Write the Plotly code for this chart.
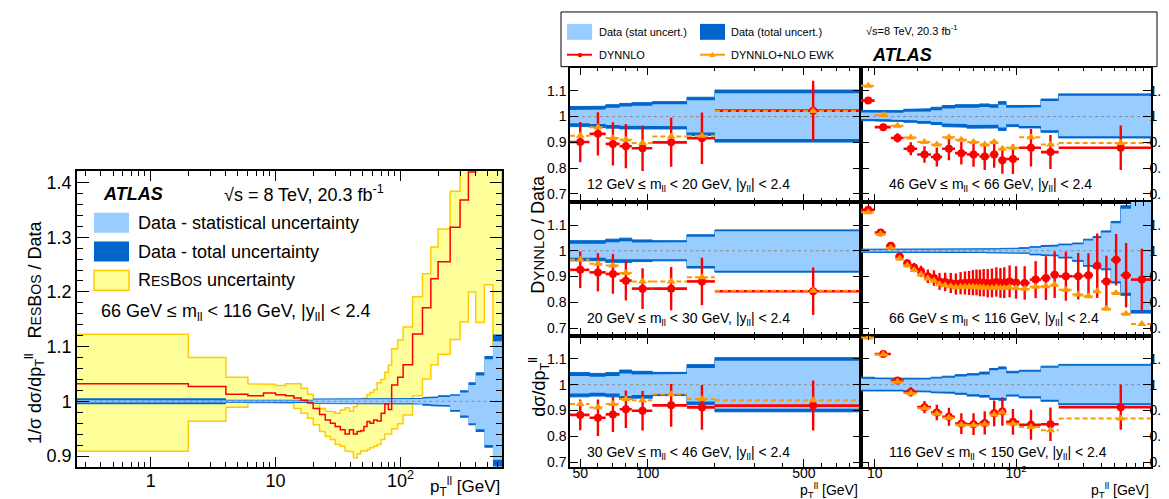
import numpy as np
import plotly.graph_objects as go

W, H = 1169, 499
FONT = "Liberation Sans, Arial, Helvetica, sans-serif"
RED = "rgb(255,0,0)"
ORANGE = "rgb(255,153,0)"
DARK = "rgb(0,102,204)"
LIGHT = "rgb(153,204,255)"
YELLOW = "rgb(255,255,153)"
GOLD = "rgb(255,204,0)"
GRAY = "rgb(140,140,140)"

# ---------------- Left panel (RESBOS / Data, 66-116 GeV) ----------------
left_edges = [0.25, 2, 4, 6, 8, 10, 12, 14, 16, 18, 20, 22.5, 25, 27.5, 30, 33, 36, 39, 42, 45, 48, 51,
              54, 57, 61, 65, 70, 75, 80, 85, 95, 105, 125, 150, 175, 200, 250, 300, 350, 400, 470, 550, 650]
resbos_central = [1.032, 1.027, 1.013, 1.010, 1.015, 1.012, 1.010, 1.006, 1.002, 0.997, 0.987, 0.976, 0.966,
                  0.960, 0.954, 0.948, 0.940, 0.948, 0.940, 0.945, 0.946, 0.954, 0.963, 0.960, 0.966, 0.964,
                  0.978, 0.995, 0.985, 1.030, 1.044, 1.067, 1.123, 1.171, 1.224, 1.255, 1.318, 1.368, 1.419,
                  1.47, 1.50, 1.55]
resbos_up = [1.1225, 1.080, 1.044, 1.032, 1.031, 1.029, 1.032, 1.032, 1.024, 1.013, 0.998, 0.987, 0.982,
             0.981, 0.978, 0.984, 0.988, 0.982, 0.990, 0.997, 1.004, 1.006, 1.012, 1.016, 1.021, 1.034,
             1.040, 1.053, 1.066, 1.096, 1.112, 1.136, 1.191, 1.233, 1.282, 1.315, 1.384, 1.48, 1.50,
             1.55, 1.60, 1.60]
resbos_dn = [0.9085, 0.9636, 0.989, 0.997, 0.998, 0.997, 0.996, 0.987, 0.978, 0.969, 0.957, 0.945, 0.936,
             0.930, 0.921, 0.918, 0.909, 0.908, 0.897, 0.904, 0.909, 0.909, 0.912, 0.915, 0.918, 0.921,
             0.930, 0.940, 0.940, 0.950, 0.959, 0.975, 1.010, 1.041, 1.067, 1.086, 1.113, 1.145, 1.200,
             1.144, 1.213, 1.10]
left_tot_up = [0.0055, 0.0055, 0.003, 0.003, 0.003, 0.003, 0.003, 0.003, 0.003, 0.003,
               0.005, 0.005, 0.005, 0.005, 0.005, 0.005, 0.005, 0.005, 0.005, 0.005, 0.005,
               0.005, 0.005, 0.005, 0.005, 0.005, 0.005, 0.005, 0.005, 0.005, 0.005, 0.005,
               0.006, 0.008, 0.009, 0.011, 0.013, 0.020, 0.035, 0.053, 0.083, 0.122]
left_tot_dn = [0.0055, 0.0055, 0.003, 0.003, 0.003, 0.003, 0.003, 0.003, 0.003, 0.003,
               0.005, 0.005, 0.005, 0.005, 0.005, 0.005, 0.005, 0.005, 0.005, 0.005, 0.005,
               0.005, 0.005, 0.005, 0.005, 0.005, 0.005, 0.005, 0.005, 0.005, 0.005, 0.005,
               0.006, 0.008, 0.009, 0.010, 0.019, 0.030, 0.044, 0.056, 0.085, 0.119]
left_stat_up = [0.002, 0.002, 0.0015, 0.0015, 0.0015, 0.0015, 0.0015, 0.0015, 0.0015, 0.0015,
                0.0035, 0.0035, 0.0035, 0.0035, 0.0035, 0.0035, 0.0035, 0.0035, 0.0035, 0.0035, 0.0035,
                0.0035, 0.0035, 0.0035, 0.0035, 0.0035, 0.0035, 0.0035, 0.0035, 0.0035, 0.0035, 0.0035,
                0.004, 0.005, 0.006, 0.008, 0.010, 0.016, 0.030, 0.047, 0.077, 0.110]
left_stat_dn = [0.002, 0.002, 0.0015, 0.0015, 0.0015, 0.0015, 0.0015, 0.0015, 0.0015, 0.0015,
                0.0035, 0.0035, 0.0035, 0.0035, 0.0035, 0.0035, 0.0035, 0.0035, 0.0035, 0.0035, 0.0035,
                0.0035, 0.0035, 0.0035, 0.0035, 0.0035, 0.0035, 0.0035, 0.0035, 0.0035, 0.0035, 0.0035,
                0.004, 0.005, 0.006, 0.007, 0.016, 0.026, 0.040, 0.051, 0.080, 0.107]

# ---------------- Right panels (DYNNLO / Data) ----------------
off_edges = [45, 55, 65, 75, 85, 105, 150, 200, 900]
coarse_edges = [8, 10, 13, 16, 20, 25, 30, 37, 45, 55, 65, 75, 85, 105, 150, 200, 900]
fine_edges = [8, 10, 12, 14, 16, 18, 20, 22.5, 25, 27.5, 30, 33, 36, 39, 42, 45, 48, 51, 54, 57, 61, 65,
              70, 75, 80, 85, 95, 105, 125, 150, 175, 200, 250, 300, 350, 400, 470, 550, 650, 900]

# 12-20 GeV
m1220_red = [0.901, 0.933, 0.894, 0.885, 0.877, 0.900, 0.916, 1.023]
m1220_red_err = [0.078, 0.084, 0.084, 0.086, 0.088, 0.095, 0.100, 0.116]
m1220_ewk = [0.926, 0.959, 0.917, 0.910, 0.897, 0.923, 0.926, 1.022]
m1220_tot_up = [0.039, 0.040, 0.046, 0.051, 0.054, 0.058, 0.075, 0.103]
m1220_tot_dn = [0.039, 0.042, 0.045, 0.048, 0.048, 0.048, 0.074, 0.099]
m1220_stat_up = [0.026, 0.027, 0.034, 0.039, 0.042, 0.048, 0.063, 0.091]
m1220_stat_dn = [0.026, 0.029, 0.033, 0.036, 0.036, 0.038, 0.062, 0.087]

# 20-30 GeV
m2030_red = [0.926, 0.916, 0.910, 0.884, 0.853, 0.853, 0.881, 0.843]
m2030_red_err = [0.071, 0.074, 0.077, 0.077, 0.079, 0.084, 0.092, 0.092]
m2030_ewk = [0.965, 0.950, 0.943, 0.914, 0.881, 0.881, 0.897, 0.845]
m2030_tot_up = [0.039, 0.039, 0.045, 0.049, 0.042, 0.039, 0.062, 0.081]
m2030_tot_dn = [0.039, 0.039, 0.045, 0.045, 0.042, 0.039, 0.067, 0.083]
m2030_stat_up = [0.027, 0.027, 0.033, 0.037, 0.032, 0.033, 0.054, 0.076]
m2030_stat_dn = [0.027, 0.027, 0.033, 0.033, 0.032, 0.033, 0.059, 0.078]

# 30-46 GeV
m3046_red = [0.883, 0.872, 0.885, 0.905, 0.899, 0.920, 0.912, 0.919]
m3046_red_err = [0.060, 0.071, 0.068, 0.073, 0.077, 0.083, 0.087, 0.097]
m3046_ewk = [0.925, 0.912, 0.925, 0.945, 0.940, 0.963, 0.945, 0.940]
m3046_tot_up = [0.047, 0.044, 0.047, 0.057, 0.052, 0.048, 0.078, 0.105]
m3046_tot_dn = [0.047, 0.044, 0.047, 0.057, 0.052, 0.042, 0.078, 0.105]
m3046_stat_up = [0.034, 0.031, 0.034, 0.044, 0.040, 0.042, 0.065, 0.093]
m3046_stat_dn = [0.034, 0.031, 0.034, 0.044, 0.040, 0.036, 0.065, 0.093]

# 46-66 GeV
m4666_red = [1.062, 0.959, 0.917, 0.875, 0.853, 0.843, 0.875, 0.858, 0.853, 0.845, 0.853, 0.830,
             0.835, 0.879, 0.862, 0.879]
m4666_red_err = [0.012, 0.013, 0.018, 0.025, 0.032, 0.037, 0.045, 0.044, 0.048, 0.052, 0.052, 0.052,
                 0.058, 0.073, 0.066, 0.086]
m4666_ewk = [1.120, 1.006, 0.964, 0.919, 0.901, 0.892, 0.920, 0.910, 0.901, 0.892, 0.901, 0.875,
             0.879, 0.920, 0.892, 0.897]
m4666_tot_up = [0.024, 0.024, 0.023, 0.028, 0.030, 0.036, 0.043, 0.046, 0.046, 0.049, 0.046, 0.058,
                0.043, 0.043, 0.068, 0.088]
m4666_tot_dn = [0.016, 0.017, 0.019, 0.022, 0.026, 0.031, 0.039, 0.041, 0.045, 0.044, 0.044, 0.054,
                0.039, 0.044, 0.061, 0.083]
m4666_stat_up = [0.016, 0.016, 0.015, 0.019, 0.020, 0.025, 0.031, 0.034, 0.034, 0.037, 0.034, 0.046,
                 0.034, 0.036, 0.060, 0.081]
m4666_stat_dn = [0.009, 0.010, 0.012, 0.014, 0.017, 0.021, 0.027, 0.029, 0.033, 0.032, 0.032, 0.042,
                 0.030, 0.037, 0.053, 0.076]

# 66-116 GeV
m66116_red = [1.159, 1.071, 1.019, 0.978, 0.952, 0.935, 0.920, 0.901, 0.894, 0.881, 0.879, 0.875, 0.871,
              0.874, 0.875, 0.875, 0.876, 0.877, 0.875, 0.876, 0.874, 0.875, 0.879, 0.875, 0.876, 0.881,
              0.877, 0.875, 0.888, 0.894, 0.907, 0.901, 0.901, 0.905, 0.942, 0.881, 0.965, 0.905, 0.888]
m66116_red_err = [0.008, 0.008, 0.010, 0.012, 0.015, 0.018, 0.022, 0.026, 0.030, 0.033, 0.036, 0.039,
                  0.041, 0.043, 0.045, 0.047, 0.049, 0.050, 0.052, 0.053, 0.055, 0.056, 0.057, 0.058,
                  0.060, 0.062, 0.063, 0.065, 0.072, 0.085, 0.090, 0.095, 0.090, 0.085, 0.125, 0.100,
                  0.100, 0.125, 0.120]
m66116_ewk = [1.150, 1.065, 1.012, 0.970, 0.943, 0.925, 0.908, 0.892, 0.884, 0.870, 0.866, 0.862, 0.858,
              0.860, 0.860, 0.860, 0.860, 0.858, 0.858, 0.857, 0.855, 0.856, 0.858, 0.855, 0.855, 0.858,
              0.855, 0.853, 0.860, 0.862, 0.868, 0.849, 0.830, 0.823, 0.843, 0.775, 0.836, 0.755, 0.716]
m66116_tot_up = [0.006, 0.006, 0.006, 0.006, 0.006, 0.006, 0.006, 0.006, 0.006, 0.006, 0.006, 0.006,
                 0.006, 0.006, 0.006, 0.007, 0.007, 0.007, 0.007, 0.007, 0.008, 0.008, 0.008, 0.009,
                 0.009, 0.010, 0.010, 0.012, 0.016, 0.020, 0.022, 0.026, 0.030, 0.045, 0.055, 0.077,
                 0.114, 0.175, 0.250]
m66116_tot_dn = [0.006, 0.006, 0.006, 0.006, 0.006, 0.006, 0.006, 0.006, 0.006, 0.006, 0.006, 0.006,
                 0.006, 0.006, 0.006, 0.007, 0.007, 0.007, 0.007, 0.007, 0.008, 0.008, 0.008, 0.009,
                 0.009, 0.010, 0.010, 0.010, 0.016, 0.018, 0.020, 0.028, 0.041, 0.060, 0.067, 0.074,
                 0.125, 0.173, 0.242]
m66116_stat_up = [0.003, 0.003, 0.003, 0.003, 0.003, 0.003, 0.003, 0.003, 0.003, 0.003, 0.003, 0.003,
                  0.003, 0.003, 0.003, 0.004, 0.004, 0.004, 0.004, 0.004, 0.005, 0.005, 0.005, 0.006,
                  0.006, 0.006, 0.006, 0.008, 0.012, 0.015, 0.017, 0.021, 0.025, 0.040, 0.050, 0.071,
                  0.107, 0.163, 0.238]
m66116_stat_dn = [0.003, 0.003, 0.003, 0.003, 0.003, 0.003, 0.003, 0.003, 0.003, 0.003, 0.003, 0.003,
                  0.003, 0.003, 0.003, 0.004, 0.004, 0.004, 0.004, 0.004, 0.005, 0.005, 0.005, 0.006,
                  0.006, 0.006, 0.006, 0.007, 0.012, 0.014, 0.015, 0.023, 0.036, 0.055, 0.061, 0.068,
                  0.118, 0.163, 0.230]

# 116-150 GeV
m116150_red = [1.220, 1.119, 1.016, 0.972, 0.913, 0.892, 0.876, 0.849, 0.847, 0.852, 0.889, 0.896,
               0.856, 0.845, 0.847, 0.913]
m116150_red_err = [0.008, 0.008, 0.012, 0.018, 0.024, 0.030, 0.035, 0.040, 0.042, 0.045, 0.050, 0.055,
                   0.050, 0.058, 0.065, 0.088]
m116150_ewk = [1.183, 1.117, 1.012, 0.967, 0.909, 0.887, 0.872, 0.845, 0.843, 0.847, 0.885, 0.892,
               0.849, 0.836, 0.823, 0.869]
m116150_tot_up = [0.029, 0.026, 0.025, 0.025, 0.025, 0.029, 0.033, 0.039, 0.043, 0.049, 0.063, 0.069,
                  0.052, 0.056, 0.072, 0.079]
m116150_tot_dn = [0.024, 0.024, 0.024, 0.026, 0.028, 0.031, 0.033, 0.037, 0.044, 0.048, 0.057, 0.060,
                  0.044, 0.051, 0.064, 0.077]
m116150_stat_up = [0.023, 0.021, 0.020, 0.020, 0.020, 0.024, 0.027, 0.032, 0.036, 0.040, 0.056, 0.060,
                   0.045, 0.050, 0.066, 0.074]
m116150_stat_dn = [0.019, 0.019, 0.019, 0.021, 0.023, 0.026, 0.027, 0.031, 0.037, 0.040, 0.050, 0.051,
                   0.038, 0.045, 0.058, 0.072]

panel_labels = ["12 GeV ≤ m<sub>ll</sub> &lt; 20 GeV, |y<sub>ll</sub>| &lt; 2.4",
                "46 GeV ≤ m<sub>ll</sub> &lt; 66 GeV, |y<sub>ll</sub>| &lt; 2.4",
                "20 GeV ≤ m<sub>ll</sub> &lt; 30 GeV, |y<sub>ll</sub>| &lt; 2.4",
                "66 GeV ≤ m<sub>ll</sub> &lt; 116 GeV, |y<sub>ll</sub>| &lt; 2.4",
                "30 GeV ≤ m<sub>ll</sub> &lt; 46 GeV, |y<sub>ll</sub>| &lt; 2.4",
                "116 GeV ≤ m<sub>ll</sub> &lt; 150 GeV, |y<sub>ll</sub>| &lt; 2.4"]


def fx(px):
    return px / W


def fy(py):
    return 1 - py / H


def step_poly(edges, upper, lower):
    xs, ys = [], []
    for i, u in enumerate(upper):
        xs += [edges[i], edges[i + 1]]
        ys += [u, u]
    for i in reversed(range(len(lower))):
        xs += [edges[i + 1], edges[i]]
        ys += [lower[i], lower[i]]
    xs.append(xs[0])
    ys.append(ys[0])
    return xs, ys


fig = go.Figure()


def add_band(xa, ya, edges, up, dn, fillcolor, linecolor=None, lw=0.0):
    xs, ys = step_poly(edges, up, dn)
    fig.add_trace(go.Scatter(x=xs, y=ys, xaxis=xa, yaxis=ya, mode="lines", fill="toself",
                             fillcolor=fillcolor, line=dict(color=linecolor or fillcolor, width=lw),
                             hoverinfo="skip", showlegend=False))


def add_unity(xa, ya, edges):
    fig.add_trace(go.Scatter(x=[edges[0], edges[-1]], y=[1, 1], xaxis=xa, yaxis=ya, mode="lines",
                             line=dict(color=GRAY, width=1, dash="dot"), hoverinfo="skip",
                             showlegend=False))


# ----- left panel traces -----
add_band("x", "y", left_edges, resbos_up, resbos_dn, YELLOW, GOLD, 1.5)
add_band("x", "y", left_edges, [1 + v for v in left_tot_up], [1 - v for v in left_tot_dn], DARK)
add_band("x", "y", left_edges, [1 + v for v in left_stat_up], [1 - v for v in left_stat_dn], LIGHT)
add_unity("x", "y", left_edges)
fig.add_trace(go.Scatter(x=left_edges, y=resbos_central + [resbos_central[-1]], xaxis="x", yaxis="y",
                         mode="lines", line=dict(color=RED, width=1.5, shape="hv"), hoverinfo="skip",
                         showlegend=False))


def hbars(edges, vals):
    xs, ys = [], []
    for i, v in enumerate(vals):
        xs += [edges[i], edges[i + 1], None]
        ys += [v, v, None]
    return xs, ys


def add_panel(k, edges, red, red_err, ewk, tot_up, tot_dn, stat_up, stat_dn):
    xa, ya = "x%d" % k, "y%d" % k
    add_band(xa, ya, edges, [1 + v for v in tot_up], [1 - v for v in tot_dn], DARK, DARK, 1.0)
    add_band(xa, ya, edges, [1 + v for v in stat_up], [1 - v for v in stat_dn], LIGHT)
    add_unity(xa, ya, edges)
    centers = [(edges[i] + edges[i + 1]) / 2 for i in range(len(red))]
    hx, hy = hbars(edges, red)
    fig.add_trace(go.Scatter(x=hx, y=hy, xaxis=xa, yaxis=ya, mode="lines",
                             line=dict(color=RED, width=2.6), hoverinfo="skip", showlegend=False))
    fig.add_trace(go.Scatter(x=centers, y=red, xaxis=xa, yaxis=ya, mode="markers",
                             marker=dict(color=RED, size=8, symbol="circle"),
                             error_y=dict(type="data", array=red_err, color=RED, thickness=2.4, width=0),
                             hoverinfo="skip", showlegend=False))
    ox, oy = hbars(edges, ewk)
    fig.add_trace(go.Scatter(x=ox, y=oy, xaxis=xa, yaxis=ya, mode="lines",
                             line=dict(color=ORANGE, width=2, dash="5px,3px"), hoverinfo="skip",
                             showlegend=False))
    fig.add_trace(go.Scatter(x=centers, y=ewk, xaxis=xa, yaxis=ya, mode="markers",
                             marker=dict(color=ORANGE, size=8, symbol="triangle-up"),
                             hoverinfo="skip", showlegend=False))


add_panel(2, off_edges, m1220_red, m1220_red_err, m1220_ewk, m1220_tot_up, m1220_tot_dn, m1220_stat_up, m1220_stat_dn)
add_panel(3, coarse_edges, m4666_red, m4666_red_err, m4666_ewk, m4666_tot_up, m4666_tot_dn, m4666_stat_up, m4666_stat_dn)
add_panel(4, off_edges, m2030_red, m2030_red_err, m2030_ewk, m2030_tot_up, m2030_tot_dn, m2030_stat_up, m2030_stat_dn)
add_panel(5, fine_edges, m66116_red, m66116_red_err, m66116_ewk, m66116_tot_up, m66116_tot_dn, m66116_stat_up, m66116_stat_dn)
add_panel(6, off_edges, m3046_red, m3046_red_err, m3046_ewk, m3046_tot_up, m3046_tot_dn, m3046_stat_up, m3046_stat_dn)
add_panel(7, coarse_edges, m116150_red, m116150_red_err, m116150_ewk, m116150_tot_up, m116150_tot_dn, m116150_stat_up, m116150_stat_dn)

# ---------------- axes ----------------
def xcfg(domain, rng, tickvals, ticktext, minor_vals, show, anchor, fs, tl, ml, standoff=0):
    return dict(type="log", domain=domain, range=rng, tickmode="array", tickvals=tickvals,
                ticktext=ticktext, showticklabels=show, ticks="inside", ticklen=tl, tickwidth=1,
                tickcolor="black", showline=True, linecolor="black", linewidth=1.5, mirror="allticks",
                showgrid=False, zeroline=False, anchor=anchor, ticklabelstandoff=standoff,
                minor=dict(tickmode="array", tickvals=minor_vals, ticks="inside", ticklen=ml,
                           tickcolor="black", tickwidth=1, showgrid=False),
                tickfont=dict(family=FONT, size=fs, color="black"))


def ycfg(domain, rng, tickvals, ticktext, anchor, fs, tl, side="left", minor_dtick=None, ml=5, standoff=0):
    d = dict(domain=domain, range=rng, tickmode="array", tickvals=tickvals, ticktext=ticktext,
             ticks="inside", ticklen=tl, tickwidth=1, tickcolor="black", showline=True,
             linecolor="black", linewidth=1.5, mirror="allticks", showgrid=False, zeroline=False,
             anchor=anchor, side=side, ticklabelstandoff=standoff,
             tickfont=dict(family=FONT, size=fs, color="black"))
    if minor_dtick:
        d["minor"] = dict(dtick=minor_dtick, tick0=0, ticks="inside", ticklen=ml, tickcolor="black",
                          tickwidth=1, showgrid=False)
    return d


left_minor = [0.3, 0.4, 0.5, 0.6, 0.7, 0.8, 0.9, 2, 3, 4, 5, 6, 7, 8, 9, 20, 30, 40, 50, 60, 70, 80, 90,
              200, 300, 400, 500, 600]
col1_minor = [60, 70, 80, 90, 200, 300, 400, 600, 700, 800, 900]
col2_minor = [8, 9, 20, 30, 40, 50, 60, 70, 80, 90, 200, 300, 400, 500, 600, 700, 800, 900]

layout = dict(width=W, height=H, margin=dict(l=0, r=0, t=0, b=0), paper_bgcolor="white",
              plot_bgcolor="white", showlegend=False, font=dict(family=FONT, color="black"))

layout["xaxis"] = xcfg([fx(69), fx(494)], [np.log10(0.257), np.log10(650)], [1, 10, 100],
                       ["1", "10", "10<sup>2</sup>"], left_minor, True, "y", 18, 10, 5, standoff=-4)
layout["yaxis"] = ycfg([fy(462), fy(164)], [0.8795, 1.421], [0.9, 1.0, 1.1, 1.2, 1.3, 1.4],
                       ["0.9", "1", "1.1", "1.2", "1.3", "1.4"], "x", 18, 12, minor_dtick=0.02, ml=6)

col_dom = {1: [fx(562), fx(853)], 2: [fx(853), fx(1143)]}
row_dom = {1: [fy(195), fy(60)], 2: [fy(330), fy(195)], 3: [fy(462), fy(330)]}
row_rng = {1: [0.669, 1.19], 2: [0.669, 1.19], 3: [0.68, 1.189]}
yt = [0.7, 0.8, 0.9, 1.0, 1.1]
ytt = ["0.7", "0.8", "0.9", "1", "1.1"]
k = 2
for r in (1, 2, 3):
    for c in (1, 2):
        show = (r == 3)
        if c == 1:
            xc = xcfg(col_dom[1], [np.log10(45), np.log10(900)], [50, 100, 500], ["50", "100", "500"],
                      col1_minor, show, "y%d" % k, 14, 8, 4, standoff=-8)
            yc = ycfg(row_dom[r], row_rng[r], yt, ytt, "x%d" % k, 14, 8, side="left", standoff=-1)
        else:
            xc = xcfg(col_dom[2], [np.log10(8), np.log10(900)], [10, 100], ["10", "10<sup>2</sup>"],
                      col2_minor, show, "y%d" % k, 14, 8, 4, standoff=-8)
            yc = ycfg(row_dom[r], row_rng[r], yt, ytt, "x%d" % k, 14, 8, side="right", standoff=-6)
        layout["xaxis%d" % k] = xc
        layout["yaxis%d" % k] = yc
        k += 1

fig.update_layout(**layout)

# ---------------- shapes & annotations ----------------
shapes = []
ann = []


def rect(x0, y0, x1, y1, fill, line=None, lw=0):
    shapes.append(dict(type="rect", xref="paper", yref="paper", x0=fx(x0), x1=fx(x1), y0=fy(y1), y1=fy(y0),
                       fillcolor=fill, line=dict(color=line or fill, width=lw), layer="above"))


def hline(x0, x1, y, color, width):
    shapes.append(dict(type="line", xref="paper", yref="paper", x0=fx(x0), x1=fx(x1), y0=fy(y), y1=fy(y),
                       line=dict(color=color, width=width), layer="above"))


def text(x, y, s, size, xanchor="left", color="black", angle=0, yanchor="middle"):
    ann.append(dict(xref="paper", yref="paper", x=fx(x), y=fy(y), text=s, showarrow=False,
                    xanchor=xanchor, yanchor=yanchor, textangle=angle,
                    font=dict(family=FONT, size=size, color=color)))


# left panel legend / labels
text(93, 187, "<b><i>ATLAS</i></b>", 18)
text(214, 187, "√s = 8 TeV, 20.3 fb<sup>-1</sup>", 18)
rect(86, 206, 121, 226, LIGHT)
rect(86, 235, 121, 255, DARK)
rect(86, 264, 121, 284, YELLOW, GOLD, 1.5)
text(128, 216, "Data - statistical uncertainty", 18)
text(128, 245, "Data - total uncertainty", 18)
text(128, 274, 'R<span style="font-size:14px">ES</span>B<span style="font-size:14px">OS</span> uncertainty', 18)
text(91, 306, "66 GeV ≤ m<sub>ll</sub> &lt; 116 GeV, |y<sub>ll</sub>| &lt; 2.4", 18)
text(26, 326, '1/σ dσ/dp<sub>T</sub><sup>ll</sup>   R<span style="font-size:14px">ES</span>B'
              '<span style="font-size:14px">OS</span> / Data', 18, xanchor="center", angle=-90)
text(494, 481, "p<sub>T</sub><sup>ll</sup> [GeV]", 17, xanchor="right")

# right legend box
shapes.append(dict(type="rect", xref="paper", yref="paper", x0=fx(553), x1=fx(1149), y0=fy(59), y1=fy(4),
                   fillcolor="rgba(0,0,0,0)", line=dict(color="black", width=1), layer="above"))
rect(559, 16, 584, 32, LIGHT)
rect(692, 16, 717, 32, DARK)
hline(559, 584, 47, RED, 2)
hline(692, 717, 47, ORANGE, 2)
text(571.5, 47, "●", 10, xanchor="center", color=RED)
text(704.5, 46, "▲", 9, xanchor="center", color=ORANGE)
text(589, 24, "Data (stat uncert.)", 11)
text(721, 24, "Data (total uncert.)", 11)
text(589, 47, "DYNNLO", 11)
text(721, 47, "DYNNLO+NLO EWK", 11)
text(856, 22, "√s=8 TeV, 20.3 fb<sup>-1</sup>", 11)
text(862, 47, "<b><i>ATLAS</i></b>", 18)

# right panel labels
pos = [(577, 178), (879, 178), (577, 313), (879, 313), (577, 448), (879, 448)]
for (x, y), s in zip(pos, panel_labels):
    text(x, y, s, 14)

# right y-axis title (two parts along the rotated line)
text(530, 228, 'D<span style="font-size:15px">YNNLO</span> / Data', 18, xanchor="center", angle=-90)
text(531, 382, 'dσ/dp<sub>T</sub><sup>ll</sup>', 18, xanchor="center", angle=-90)
text(852, 485, "p<sub>T</sub><sup>ll</sup> [GeV]", 14, xanchor="right")
text(1143, 485, "p<sub>T</sub><sup>ll</sup> [GeV]", 14, xanchor="right")

fig.update_layout(shapes=shapes, annotations=ann)
fig.write_html("out.html")
